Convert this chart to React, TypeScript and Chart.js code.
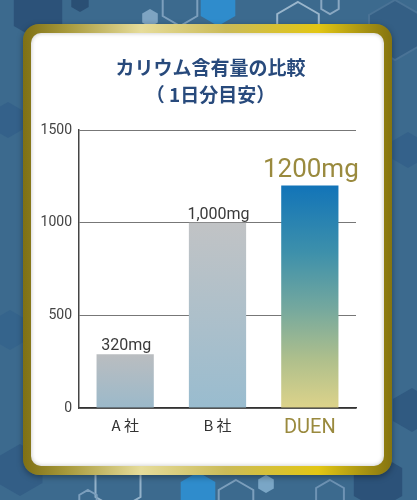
import { useEffect, useRef } from 'react';
import { Chart, registerables } from 'chart.js';

Chart.register(...registerables);

// chart data
const categories = ['A 社', 'B 社', 'DUEN'];
const potassiumMg = [290, 1000, 1200];
const valueLabels = ['320mg', '1,000mg', '1200mg'];
const titleLines = ['カリウム含有量の比較', '（ 1日分目安）'];

const GOLD = '#9a8a3e';

// gradient stops per bar (top -> bottom)
const barStops: [number, string][][] = [
  [[0, '#babdc0'], [1, '#9bb9ca']],
  [[0, '#c1c3c5'], [1, '#99bccf']],
  [[0, '#1274b8'], [0.3, '#3d90ab'], [0.55, '#74a89e'], [0.78, '#aebf8c'], [1, '#ddd38a']],
];

const valueLabelPlugin = {
  id: 'valueLabels',
  afterDatasetsDraw(chart: Chart) {
    const { ctx } = chart;
    const meta = chart.getDatasetMeta(0);
    meta.data.forEach((bar: any, i: number) => {
      const big = i === 2;
      ctx.save();
      ctx.font = big ? '26px Roboto' : '16px Roboto';
      ctx.fillStyle = big ? GOLD : '#3a3a3a';
      ctx.textAlign = 'center';
      ctx.textBaseline = 'alphabetic';
      ctx.fillText(valueLabels[i], bar.x + 1, bar.y - (big ? 9 : 4));
      ctx.restore();
    });
  },
};

// title centred on the card (the plot itself is off-centre)
const cardTitlePlugin = {
  id: 'cardTitle',
  afterDraw(chart: Chart) {
    const { ctx } = chart;
    ctx.save();
    ctx.font = 'bold 19px "Noto Sans CJK JP", sans-serif';
    ctx.fillStyle = '#284a7c';
    ctx.textAlign = 'center';
    ctx.textBaseline = 'middle';
    titleLines.forEach((line, i) => {
      ctx.fillText(line, chart.width / 2 + 3, 35 + i * 27);
    });
    ctx.restore();
  },
};

// background hexagons (decoration only)
const hexes = [
  { cx: 38, cy: 12, r: 28, fill: '#2c5279', stroke: 'none' },
  { cx: 80, cy: 2, r: 10, fill: '#2a4f74', stroke: 'none' },
  { cx: 150, cy: 18, r: 9, fill: '#7ea4c2', stroke: 'none' },
  { cx: 180, cy: 6, r: 20, fill: 'none', stroke: '#7c9fbd' },
  { cx: 218, cy: 6, r: 20, fill: '#2f8ccc', stroke: 'none' },
  { cx: 298, cy: 26, r: 24, fill: 'none', stroke: '#9ab6cc' },
  { cx: 330, cy: 4, r: 10, fill: 'none', stroke: '#8aa8c2' },
  { cx: 395, cy: 30, r: 30, fill: '#345f85', stroke: '#4a7396' },
  { cx: 8, cy: 120, r: 18, fill: '#34618a', stroke: 'none' },
  { cx: 408, cy: 150, r: 18, fill: '#34618a', stroke: 'none' },
  { cx: 10, cy: 330, r: 20, fill: '#35648c', stroke: 'none' },
  { cx: 20, cy: 470, r: 26, fill: '#335e86', stroke: 'none' },
  { cx: 118, cy: 484, r: 26, fill: 'none', stroke: '#93b2ca' },
  { cx: 88, cy: 500, r: 10, fill: 'none', stroke: '#7c9fbd' },
  { cx: 198, cy: 492, r: 20, fill: '#2f8ccc', stroke: 'none' },
  { cx: 236, cy: 500, r: 20, fill: 'none', stroke: '#7c9fbd' },
  { cx: 266, cy: 484, r: 9, fill: '#7aa6c6', stroke: 'none' },
  { cx: 330, cy: 496, r: 16, fill: 'none', stroke: '#6e93b4' },
  { cx: 378, cy: 482, r: 28, fill: '#2c5279', stroke: 'none' },
  { cx: 412, cy: 410, r: 22, fill: '#305a81', stroke: 'none' },
];

function hexPoints(cx: number, cy: number, r: number) {
  const pts: string[] = [];
  for (let k = 0; k < 6; k++) {
    const a = (Math.PI / 3) * k - Math.PI / 2;
    pts.push(`${(cx + r * Math.cos(a)).toFixed(1)},${(cy + r * Math.sin(a)).toFixed(1)}`);
  }
  return pts.join(' ');
}

export default function App() {
  const canvasRef = useRef<HTMLCanvasElement>(null);
  const chartRef = useRef<Chart | null>(null);

  useEffect(() => {
    if (!canvasRef.current) return;
    const ctx = canvasRef.current.getContext('2d');
    if (!ctx) return;
    if (chartRef.current) chartRef.current.destroy();

    chartRef.current = new Chart(ctx, {
      type: 'bar',
      data: {
        labels: categories,
        datasets: [{
          data: potassiumMg,
          backgroundColor: (c: any) => {
            const chart = c.chart;
            const y = chart.scales?.y;
            if (!chart.chartArea || !y) return '#bbbbbb';
            const top = y.getPixelForValue(c.raw as number);
            const bottom = y.getPixelForValue(0);
            const g = chart.ctx.createLinearGradient(0, top, 0, bottom);
            barStops[c.dataIndex].forEach(([o, col]) => g.addColorStop(o, col));
            return g;
          },
          borderWidth: 0,
          categoryPercentage: 1,
          barPercentage: 0.62,
        }],
      },
      options: {
        animation: false,
        responsive: true,
        maintainAspectRatio: false,
        layout: { padding: { left: 0, right: 28, top: 97, bottom: 0 } },
        plugins: {
          legend: { display: false },
          tooltip: { enabled: false },
          title: { display: false },
        },
        scales: {
          x: {
            afterFit: (s: any) => { s.height = 58; },
            grid: { display: false },
            border: { display: true, color: '#333333', width: 1.5 },
            ticks: {
              padding: 0,
              color: (c: any) => (c.index === 2 ? GOLD : '#333333'),
              font: (c: any) => (c.index === 2
                ? { family: 'Roboto, sans-serif', size: 20 }
                : { family: '"Noto Sans CJK JP", sans-serif', size: 15 }),
            },
          },
          y: {
            min: 0,
            max: 1500,
            afterFit: (s: any) => { s.width = 48; },
            grid: { color: '#777777', lineWidth: 1, drawTicks: false },
            border: { display: true, color: '#444444', width: 1.5 },
            ticks: {
              stepSize: 500,
              padding: 7,
              color: '#444444',
              font: { family: 'Roboto, sans-serif', size: 14 },
              callback: (v: any) => String(v),
            },
          },
        },
      },
      plugins: [valueLabelPlugin, cardTitlePlugin],
    });

    return () => {
      if (chartRef.current) {
        chartRef.current.destroy();
        chartRef.current = null;
      }
    };
  }, []);

  return (
    <div style={{ position: 'fixed', left: 0, top: 0, width: 417, height: 500, overflow: 'hidden', background: '#3c6a8e' }}>
      <svg width={417} height={500} style={{ position: 'absolute', left: 0, top: 0 }}>
        {hexes.map((h, i) => (
          <polygon key={i} points={hexPoints(h.cx, h.cy, h.r)} fill={h.fill} stroke={h.stroke} strokeWidth={2} />
        ))}
      </svg>
      <div
        style={{
          position: 'absolute', left: 23, top: 24, width: 369, height: 451, borderRadius: 16,
          background: 'linear-gradient(90deg, #7f7014 0%, #a89a3c 12%, #e6dc9a 32%, #cbbb58 55%, #e2c614 80%, #857410 100%)',
          boxShadow: '0 2px 6px rgba(0,0,0,0.35)',
        }}
      >
        <div
          style={{
            position: 'absolute', left: 8, top: 9, width: 353, height: 433, borderRadius: 10,
            background: '#ffffff', boxShadow: 'inset 0 0 4px rgba(0,0,0,0.25)',
          }}
        >
          <div style={{ position: 'relative', width: 353, height: 433 }}>
            <canvas ref={canvasRef} />
          </div>
        </div>
      </div>
    </div>
  );
}
